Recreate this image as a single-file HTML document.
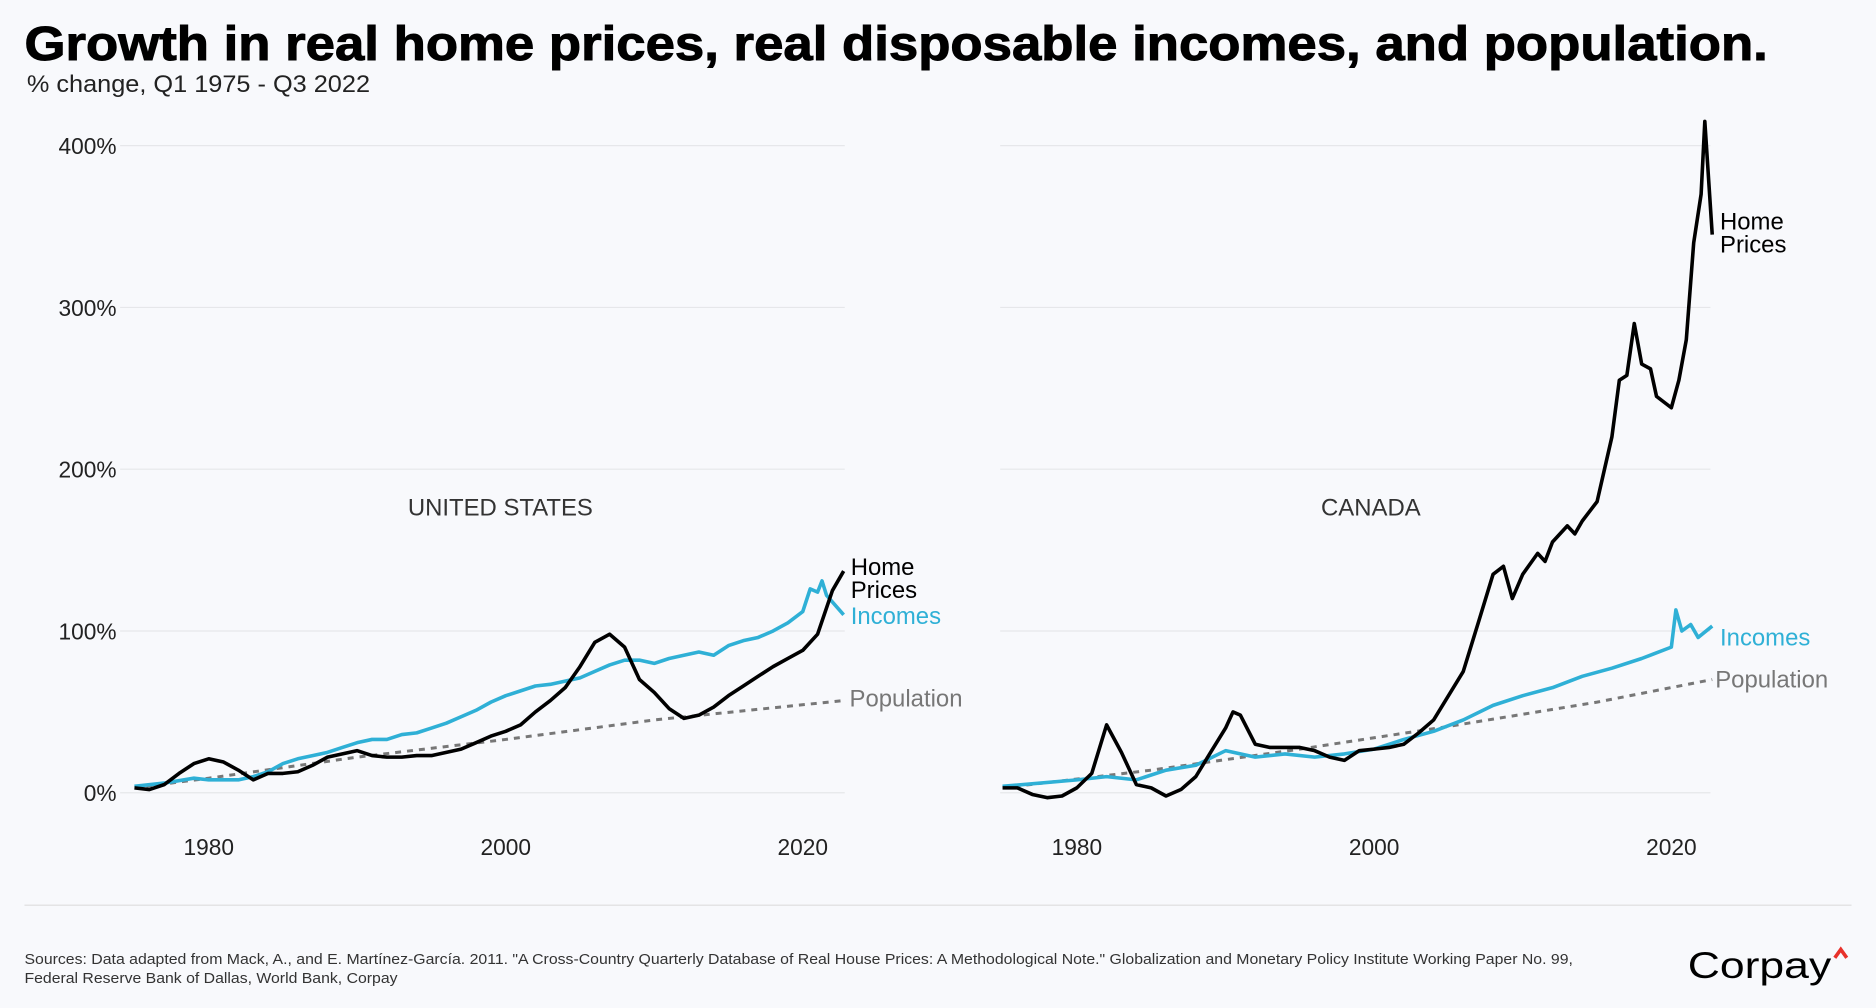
<!DOCTYPE html>
<html><head><meta charset="utf-8"><style>
html,body{margin:0;padding:0;background:#f8f9fc;}
svg{display:block;font-family:"Liberation Sans",sans-serif;}
</style></head><body>
<svg id="chart" width="1876" height="1008" viewBox="0 0 1568 843" xmlns="http://www.w3.org/2000/svg">
<rect width="1568" height="843" fill="#f8f9fc"/>
<text x="20" y="50" font-size="40" font-weight="900" fill="#000" stroke="#000" stroke-width="0.8" textLength="1458" lengthAdjust="spacingAndGlyphs">Growth in real home prices, real disposable incomes, and population.</text>
<text x="22" y="77" font-size="20" fill="#222" textLength="287" lengthAdjust="spacingAndGlyphs">% change, Q1 1975 - Q3 2022</text>
<g id="plots"></g>
<line x1="20" y1="757" x2="1548" y2="757" stroke="#ddd"/>
<text x="20" y="806" font-size="12" fill="#333" textLength="1295" lengthAdjust="spacingAndGlyphs">Sources: Data adapted from Mack, A., and E. Martínez-García. 2011. "A Cross-Country Quarterly Database of Real House Prices: A Methodological Note." Globalization and Monetary Policy Institute Working Paper No. 99,</text>
<text x="20" y="822" font-size="12" fill="#333" textLength="312" lengthAdjust="spacingAndGlyphs">Federal Reserve Bank of Dallas, World Bank, Corpay</text>
<text x="1411" y="818" font-size="31" fill="#000" textLength="120" lengthAdjust="spacingAndGlyphs">Corpay</text>
<path d="M1534 801 L1539 794 L1544 801" stroke="#e8322b" stroke-width="3" fill="none"/>
</svg>
<script>
const yTicks=[0,100,200,300,400];
const xTicks=[1980,2000,2020];
const usHomeYears=[1975,1976,1977,1978,1979,1980,1981,1982,1983,1984,1985,1986,1987,1988,1989,1990,1991,1992,1993,1994,1995,1996,1997,1998,1999,2000,2001,2002,2003,2004,2005,2006,2007,2008,2009,2010,2011,2012,2013,2014,2015,2016,2017,2018,2019,2020,2021,2022,2022.75];
const usHomeVals=[3,2,5,12,18,21,19,14,8,12,12,13,17,22,24,26,23,22,22,23,23,25,27,31,35,38,42,50,57,65,78,93,98,90,70,62,52,46,48,53,60,66,72,78,83,88,98,125,137];
const usIncYears=[1975,1977,1979,1980,1982,1983,1984,1985,1986,1987,1988,1989,1990,1991,1992,1993,1994,1995,1996,1997,1998,1999,2000,2001,2002,2003,2004,2005,2006,2007,2008,2009,2010,2011,2012,2013,2014,2015,2016,2017,2018,2019,2020,2020.5,2021,2021.3,2021.6,2022.75];
const usIncVals=[4,6,9,8,8,10,13,18,21,23,25,28,31,33,33,36,37,40,43,47,51,56,60,63,66,67,69,71,75,79,82,82,80,83,85,87,85,91,94,96,100,105,112,126,124,131,122,110];
const usPopYears=[1975,1980,1990,2000,2010,2022.75];
const usPopVals=[3,9,22,33,45,57];
const caHomeYears=[1975,1976,1977,1978,1979,1980,1981,1982,1983,1984,1985,1986,1987,1988,1989,1990,1990.5,1991,1992,1993,1994,1995,1996,1997,1998,1999,2000,2001,2002,2003,2004,2005,2006,2007,2008,2008.7,2009.3,2010,2011,2011.5,2012,2013,2013.5,2014,2015,2015.5,2016,2016.5,2017,2017.5,2018,2018.6,2019,2020,2020.5,2021,2021.5,2022,2022.25,2022.75];
const caHomeVals=[3,3,-1,-3,-2,3,12,42,25,5,3,-2,2,10,25,40,50,48,30,28,28,28,26,22,20,26,27,28,30,37,45,60,75,105,135,140,120,135,148,143,155,165,160,168,180,200,220,255,258,290,265,262,245,238,255,280,340,370,415,345];
const caIncYears=[1975,1980,1982,1984,1986,1988,1990,1992,1994,1996,1998,2000,2002,2004,2006,2008,2010,2012,2014,2016,2018,2020,2020.3,2020.7,2021.3,2021.8,2022.75];
const caIncVals=[4,8,10,8,14,17,26,22,24,22,24,27,33,38,45,54,60,65,72,77,83,90,113,100,104,96,103];
const caPopYears=[1975,1985,1995,2005,2015,2022.75];
const caPopVals=[3,14,27,41,56,70];

const NS="http://www.w3.org/2000/svg";
const g=document.getElementById('plots');
function mk(tag,attrs,parent){const e=document.createElementNS(NS,tag);for(const k in attrs)e.setAttribute(k,attrs[k]);(parent||g).appendChild(e);return e;}
function yScale(v){return 663-v*1.353;}
function panel(cfg){
  const xs=y=>cfg.x0+(y-1975)*cfg.k;
  yTicks.forEach(t=>{
    const l=mk('line',{x1:cfg.gx1,x2:cfg.gx2,y1:yScale(t),y2:yScale(t),stroke:'#e6e7ea','stroke-width':1});
    
    
    if(cfg.labels){const tx=mk('text',{x:97,y:yScale(t)+7,'text-anchor':'end','font-size':19,fill:'#222'});tx.textContent=t+'%';
      
      }
  });
  xTicks.forEach(t=>{
    const tx=mk('text',{x:xs(t),y:715,'text-anchor':'middle','font-size':19,fill:'#222'});tx.textContent=t;
    
    
  });
  const ti=mk('text',{x:cfg.cx,y:431,'text-anchor':'middle','font-size':20,fill:'#333'});ti.textContent=cfg.name;
  
  
  function line(ys,vs,style,name){
    const d=ys.map((y,i)=>(i?'L':'M')+xs(y).toFixed(1)+' '+yScale(vs[i]).toFixed(1)).join(' ');
    const p=mk('path',Object.assign({d:d,fill:'none','stroke-linejoin':'round'},style));
    
    
  }
  line(cfg.pop[0],cfg.pop[1],{stroke:'#777','stroke-width':2.5,'stroke-dasharray':'5,5'},'population-line');
  line(cfg.inc[0],cfg.inc[1],{stroke:'#2fb0d6','stroke-width':3},'incomes-line');
  line(cfg.home[0],cfg.home[1],{stroke:'#000','stroke-width':3},'home-prices-line');
  cfg.texts.forEach(t=>{const tx=mk('text',{x:t[0],y:t[1],'font-size':20,fill:t[3]});tx.textContent=t[2];
    
    });
}
panel({x0:112,k:12.42,gx1:100,gx2:706,labels:true,cx:418,name:'UNITED STATES',
  home:[usHomeYears,usHomeVals],inc:[usIncYears,usIncVals],pop:[usPopYears,usPopVals],
  texts:[[711,481,'Home','#000'],[711,500,'Prices','#000'],[711,522,'Incomes','#2fb0d6'],[710,591,'Population','#777']]});
panel({x0:838,k:12.43,gx1:836,gx2:1430,labels:false,cx:1146,name:'CANADA',
  home:[caHomeYears,caHomeVals],inc:[caIncYears,caIncVals],pop:[caPopYears,caPopVals],
  texts:[[1438,192,'Home','#000'],[1438,211,'Prices','#000'],[1438,540,'Incomes','#2fb0d6'],[1434,575,'Population','#777']]});
</script>
</body></html>
